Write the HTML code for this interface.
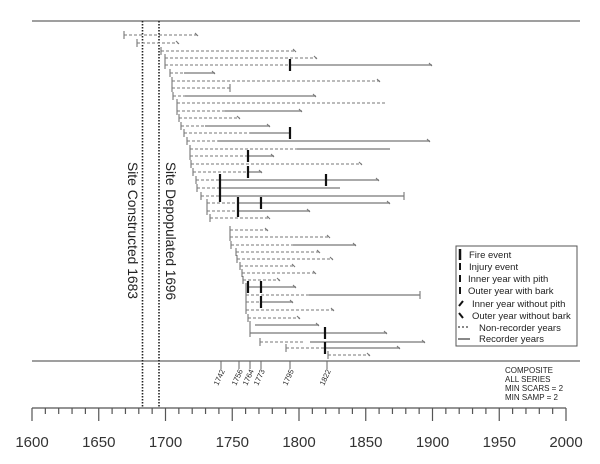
<!DOCTYPE html>
<html><head><meta charset="utf-8"><style>
html,body{margin:0;padding:0;background:#fff;}
svg{display:block;}
text{font-family:"Liberation Sans",sans-serif;}
</style></head><body>
<svg width="600" height="464" viewBox="0 0 600 464" xmlns="http://www.w3.org/2000/svg">
<g stroke="#666" stroke-width="1.3" fill="none">
<line x1="32" y1="21" x2="580" y2="21"/>
<line x1="32" y1="361" x2="580" y2="361"/>
</g>
<g stroke="#222" stroke-width="1.6" stroke-dasharray="1.5,1.5">
<line x1="142.5" y1="21" x2="142.5" y2="408"/>
<line x1="159" y1="21" x2="159" y2="408"/>
</g>
<text transform="translate(128,162) rotate(90)" font-size="14" fill="#222" textLength="137" lengthAdjust="spacingAndGlyphs">Site Constructed 1683</text>
<text transform="translate(166,162) rotate(90)" font-size="14" fill="#222" textLength="138" lengthAdjust="spacingAndGlyphs">Site Depopulated 1696</text>
<g stroke="#777" stroke-width="1.1" fill="none">
<path d="M124,35H198 M137,43H178 M161,51H296 M165,58H317 M165,65H290 M170,73H184 M172,81H380 M172,88H230 M173,96H185 M177,103H385 M177,111H225 M179,118H240 M181,126H205 M184,133H250 M187,141H218 M190,149H297 M190,156H248 M191,164H362 M193,172H248 M196,180H220 M197,188H220 M201,196H220 M207,203H238 M207,211H238 M210,218H270 M230,230H268 M230,237H330 M231,245H293 M236,252H320 M237,259H333 M240,266H295 M242,273H316 M243,280H280 M246,295H309 M246,302H261 M246,310H334 M248,318H300 M260,342H305 M286,348H325 M328,355H370" stroke-dasharray="3,2"/>
<path d="M290,65H432 M184,73H215 M185,96H316 M225,111H302 M205,126H270 M250,133H290 M218,141H430 M297,149H390 M248,156H274 M248,172H262 M220,180H379 M220,188H340 M220,196H404 M238,203H390 M238,211H310 M293,245H356 M248,287H296 M309,295H420 M261,302H293 M255,325H319 M325,333H387 M310,342H425 M325,348H400 M250,333H325" stroke-width="1.2"/>
<path d="M124,31V39 M137,39V47 M161,47V55 M165,54V62 M165,61V69 M170,69V77 M172,77V85 M172,84V92 M173,92V100 M177,99V107 M177,107V115 M179,114V122 M181,122V130 M184,129V137 M187,137V145 M190,145V153 M190,152V160 M191,160V168 M193,168V176 M196,176V184 M197,184V192 M201,192V200 M207,199V207 M207,207V215 M210,214V222 M230,226V234 M230,233V241 M231,241V249 M236,248V256 M237,255V263 M240,262V270 M242,269V277 M243,276V284 M246,283V291 M246,291V299 M246,298V306 M246,306V314 M248,314V322 M250,321V329 M250,329V337 M260,338V346 M286,344V352 M328,351V359"/>
<path d="M195,33L198,36 M176,41L179,44 M293,49L296,52 M314,56L317,59 M429,63L432,66 M212,71L215,74 M377,79L380,82 M313,94L316,97 M299,109L302,112 M237,116L240,119 M267,124L270,127 M427,139L430,142 M359,162L362,165 M271,154L274,157 M376,178L379,181 M259,170L262,173 M387,201L390,204 M307,209L310,212 M267,216L270,219 M265,228L268,231 M327,235L330,238 M353,243L356,246 M317,250L320,253 M330,257L333,260 M292,264L295,267 M313,271L316,274 M277,278L280,281 M293,285L296,288 M290,300L293,303 M331,308L334,311 M297,316L300,319 M316,323L319,326 M384,331L387,334 M422,340L425,343 M397,346L400,349 M367,353L370,356"/>
<path d="M230,84V92 M290,129V137 M404,192V200 M420,291V299"/>
</g>
<g stroke="#111" stroke-width="2.2">
<path d="M290,59V71 M290,127V139 M248,150V162 M248,166V178 M220,174V186 M326,174V186 M220,182V194 M220,190V202 M238,197V209 M261,197V209 M238,205V217 M248,281V293 M261,281V293 M261,296V308 M325,327V339 M325,342V354"/>
</g>
<g stroke="#666" stroke-width="1">
<path d="M221,361V369 M239,361V369 M250,361V369 M261,361V369 M290,361V369 M327,361V369"/>
</g>
<g font-size="7.5" fill="#222">
<text transform="translate(218,386) rotate(-65)">1742</text>
<text transform="translate(236,386) rotate(-65)">1756</text>
<text transform="translate(247,386) rotate(-65)">1764</text>
<text transform="translate(258,386) rotate(-65)">1773</text>
<text transform="translate(287,386) rotate(-65)">1795</text>
<text transform="translate(324,386) rotate(-65)">1822</text>
</g>
<g font-size="8" fill="#222">
<text x="505" y="373">COMPOSITE</text>
<text x="505" y="382">ALL SERIES</text>
<text x="505" y="391">MIN SCARS = 2</text>
<text x="505" y="400">MIN SAMP = 2</text>
</g>
<rect x="456" y="246" width="121" height="100" fill="#fff" stroke="#555" stroke-width="1"/>
<g stroke="#111">
<line x1="460" y1="249" x2="460" y2="260" stroke-width="2.5"/>
<line x1="460" y1="263" x2="460" y2="270" stroke-width="2"/>
<line x1="460" y1="275" x2="460" y2="282" stroke-width="2"/>
<line x1="460" y1="287" x2="460" y2="294" stroke-width="2"/>
<line x1="459" y1="306" x2="463" y2="301" stroke-width="2"/>
<line x1="459" y1="313" x2="463" y2="318" stroke-width="2"/>
<line x1="458" y1="327" x2="470" y2="327" stroke-width="1" stroke-dasharray="2,2"/>
<line x1="458" y1="339" x2="470" y2="339" stroke-width="1"/>
</g>
<g font-size="9.5" fill="#222">
<text x="469" y="258">Fire event</text>
<text x="469" y="270">Injury event</text>
<text x="468" y="282">Inner year with pith</text>
<text x="468" y="294">Outer year with bark</text>
<text x="472" y="307">Inner year without pith</text>
<text x="472" y="319">Outer year without bark</text>
<text x="479" y="331">Non-recorder years</text>
<text x="479" y="342">Recorder years</text>
</g>
<g stroke="#555" stroke-width="1.2">
<line x1="32" y1="408" x2="566" y2="408"/>
<path d="M32,408V421 M45.35,408V414 M58.7,408V414 M72.05,408V414 M85.4,408V414 M98.75,408V421 M112.1,408V414 M125.45,408V414 M138.8,408V414 M152.15,408V414 M165.5,408V421 M178.85,408V414 M192.2,408V414 M205.55,408V414 M218.9,408V414 M232.25,408V421 M245.6,408V414 M258.95,408V414 M272.3,408V414 M285.65,408V414 M299,408V421 M312.35,408V414 M325.7,408V414 M339.05,408V414 M352.4,408V414 M365.75,408V421 M379.1,408V414 M392.45,408V414 M405.8,408V414 M419.15,408V414 M432.5,408V421 M445.85,408V414 M459.2,408V414 M472.55,408V414 M485.9,408V414 M499.25,408V421 M512.6,408V414 M525.95,408V414 M539.3,408V414 M552.65,408V414 M566,408V421"/>
</g>
<g font-size="15" fill="#333" text-anchor="middle">
<text x="32" y="447">1600</text>
<text x="98.75" y="447">1650</text>
<text x="165.5" y="447">1700</text>
<text x="232.25" y="447">1750</text>
<text x="299" y="447">1800</text>
<text x="365.75" y="447">1850</text>
<text x="432.5" y="447">1900</text>
<text x="499.25" y="447">1950</text>
<text x="566" y="447">2000</text>
</g>
</svg>
</body></html>
